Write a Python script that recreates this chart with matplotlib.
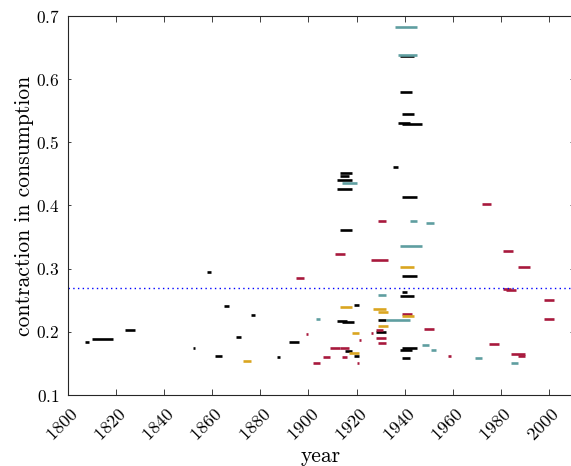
#!/usr/bin/env python3

import matplotlib
matplotlib.use('Agg')
import matplotlib.pyplot as plt
import matplotlib.transforms as mtransforms

plt.rcParams['font.family'] = 'cmr10'
plt.rcParams['axes.formatter.use_mathtext'] = True

# disaster episodes: start year, end year, contraction
black_start = [1807, 1810, 1824, 1852, 1858, 1861, 1865, 1870, 1876, 1887, 1892,
               1935, 1913, 1913, 1912, 1912, 1913, 1919, 1912, 1914, 1929, 1928,
               1915, 1919, 1939, 1939, 1939, 1938, 1939, 1938, 1939,
               1938, 1938, 1939, 1937, 1939]
black_end = [1809, 1819, 1828, 1853, 1859.7, 1864, 1867, 1872, 1878, 1888, 1896,
             1937, 1918, 1917, 1918, 1918, 1918, 1921, 1916, 1919, 1932, 1932,
             1918, 1921, 1945, 1945, 1941, 1944, 1945, 1943, 1942,
             1944, 1943, 1944, 1942, 1947]
black_val = [0.184, 0.189, 0.203, 0.174, 0.295, 0.161, 0.241, 0.192, 0.227, 0.160, 0.184,
             0.461, 0.451, 0.446, 0.440, 0.426, 0.361, 0.243, 0.217, 0.215, 0.219, 0.200,
             0.170, 0.162, 0.413, 0.288, 0.263, 0.256, 0.175, 0.171, 0.158,
             0.636, 0.580, 0.545, 0.530, 0.529]

teal_start = [1903, 1914, 1929, 1932, 1942, 1949, 1938, 1947, 1951, 1936, 1937, 1969, 1984]
teal_end = [1905, 1920, 1932, 1942, 1945, 1952, 1947, 1950, 1953, 1945, 1945, 1972, 1987]
teal_val = [0.221, 0.435, 0.259, 0.219, 0.376, 0.372, 0.336, 0.179, 0.171, 0.683, 0.639,
            0.158, 0.150]

red_start = [1895, 1899, 1909, 1913, 1906, 1902, 1911, 1929, 1926, 1926, 1928, 1928, 1929,
             1921, 1914, 1920, 1939, 1948, 1958, 1972, 1981, 1987, 1981, 1982, 1998, 1998,
             1975, 1984, 1987]
red_end = [1898, 1900, 1913, 1917, 1909, 1905, 1915, 1932, 1933, 1927, 1931, 1932, 1932,
           1922, 1916, 1921, 1943, 1952, 1959, 1976, 1985, 1992, 1984, 1986, 2002, 2002,
           1979, 1990, 1990]
red_val = [0.285, 0.197, 0.174, 0.174, 0.160, 0.150, 0.323, 0.375, 0.313, 0.198, 0.203, 0.191, 0.183,
           0.187, 0.160, 0.150, 0.229, 0.205, 0.161, 0.402, 0.328, 0.302, 0.268, 0.266, 0.250, 0.220,
           0.181, 0.165, 0.162]

gold_start = [1873, 1913, 1927, 1929, 1929, 1918, 1917, 1938, 1939]
gold_end = [1876, 1918, 1932, 1933, 1933, 1921, 1921, 1944, 1944]
gold_val = [0.154, 0.240, 0.236, 0.231, 0.210, 0.198, 0.166, 0.303, 0.225]

mean_val = 0.27

fig = plt.figure(figsize=(5.71, 4.66), dpi=100)
ax = fig.add_axes([67.7/571, 71/466, 505.6/571, 379/466])

lw = 1.9
ax.hlines(black_val, black_start, black_end, colors='black', linewidth=lw, capstyle='butt')
ax.hlines(teal_val, teal_start, teal_end, colors='#5F9EA0', linewidth=lw, capstyle='butt')
ax.hlines(red_val, red_start, red_end, colors='#A8193D', linewidth=lw, capstyle='butt')
ax.hlines(gold_val, gold_start, gold_end, colors='#DAA520', linewidth=lw, capstyle='butt')
ax.axhline(mean_val, color='blue', linewidth=1.0, linestyle=(0, (1, 2.4)))

ax.set_xlim(1800, 2010)
ax.set_ylim(0.1, 0.7)
ax.set_xticks(range(1800, 2001, 20))
ax.set_yticks([0.1, 0.2, 0.3, 0.4, 0.5, 0.6, 0.7])

for s in ax.spines.values():
    s.set_color('#262626')
    s.set_linewidth(0.8)

ax.tick_params(axis='x', direction='in', length=4.3, width=0.7, color='#404040',
               top=True, labelsize=13, pad=8)
ax.tick_params(axis='y', direction='in', length=2, width=0.7, color='#404040',
               right=True, labelsize=12.5, pad=6)

offset = mtransforms.ScaledTranslation(-5.5/100, 0, fig.dpi_scale_trans)
for lab in ax.get_xticklabels():
    lab.set_rotation(45)
    lab.set_ha('center')
    lab.set_transform(lab.get_transform() + offset)

ax.set_xlabel('year', fontsize=15.5, labelpad=1.5)
ax.set_ylabel('contraction in consumption', fontsize=15.5, labelpad=1)

plt.savefig('out.png', dpi=100)
